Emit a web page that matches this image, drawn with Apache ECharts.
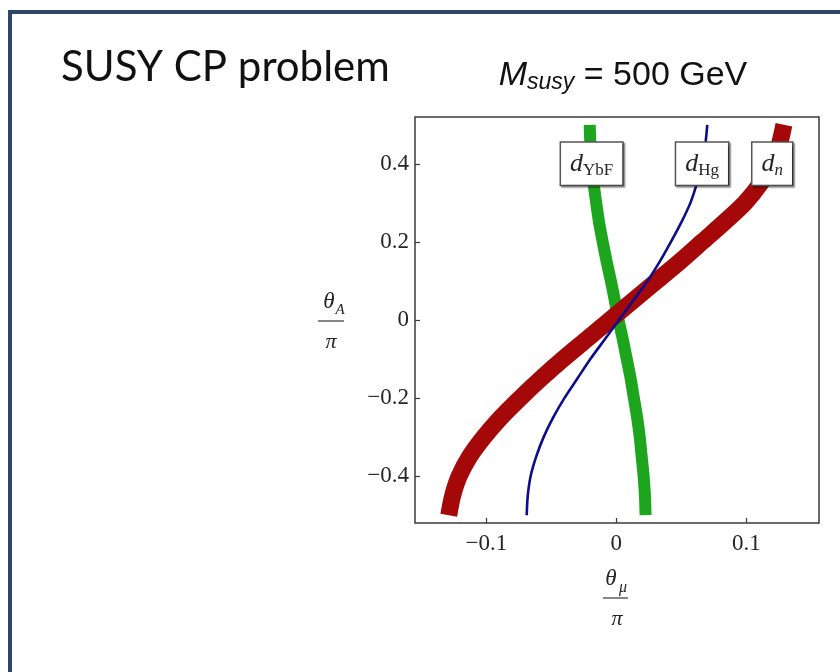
<!DOCTYPE html>
<html>
<head>
<meta charset="utf-8">
<title>SUSY CP problem</title>
<script src="https://cdn.jsdelivr.net/npm/echarts@6/dist/echarts.min.js"></script>
<style>
  html, body { margin: 0; padding: 0; background: #ffffff; }
  #chart { width: 840px; height: 672px; }
</style>
</head>
<body>
<div id="chart"></div>
<script>
// θ_A/π levels at which each EDM contour is sampled
const thetaA = [-0.5, -0.45, -0.4, -0.35, -0.3, -0.25, -0.2, -0.15, -0.1, -0.05, 0,
                0.05, 0.1, 0.15, 0.2, 0.25, 0.3, 0.35, 0.4, 0.45, 0.5];

// θ_μ/π on each contour at the θ_A/π levels above
const dYbF = [0.0225, 0.022, 0.021, 0.0195, 0.018, 0.016, 0.0135, 0.011, 0.008, 0.005, 0.0017,
              -0.0012, -0.0042, -0.0075, -0.0105, -0.0133, -0.0155, -0.0175, -0.019, -0.020, -0.0205];
const dHg  = [-0.069, -0.0682, -0.066, -0.0617, -0.056, -0.0487, -0.040, -0.030, -0.020, -0.009, 0.002,
              0.013, 0.024, 0.0335, 0.042, 0.050, 0.057, 0.062, 0.066, 0.0685, 0.070];
const dn   = [-0.129, -0.126, -0.121, -0.113, -0.102, -0.089, -0.074, -0.058, -0.041, -0.023, -0.005,
              0.013, 0.031, 0.049, 0.066, 0.083, 0.099, 0.111, 0.120, 0.1255, 0.129];

// axis ticks
const xTicks = [-0.1, 0, 0.1];
const yTicks = [-0.4, -0.2, 0, 0.2, 0.4];

// contour tags sit on each curve at this θ_A/π level
const tagLevel = 0.4;

const SERIF = "'Liberation Serif', 'DejaVu Serif', serif";
const INK = '#262626';

function pairs(xs) { return thetaA.map((y, i) => [xs[i], y]); }
const tagIndex = thetaA.indexOf(tagLevel);

function fmt(v) {
  if (Math.abs(v) < 1e-9) return '0';
  return (v < 0 ? '\u2212' : '') + Math.abs(v).toFixed(1);
}

const tagRich = {
  d:  { fontFamily: SERIF, fontStyle: 'italic', fontSize: 26, color: INK, lineHeight: 30, verticalAlign: 'middle' },
  s:  { fontFamily: SERIF, fontSize: 17, color: INK, lineHeight: 18, verticalAlign: 'bottom' },
  si: { fontFamily: SERIF, fontStyle: 'italic', fontSize: 17, color: INK, lineHeight: 18, verticalAlign: 'bottom' }
};

function tagSeries(name, xs, text) {
  return {
    name: name + ' tag',
    type: 'scatter',
    z: 10,
    symbol: 'rect',
    symbolSize: 1,
    itemStyle: { color: 'rgba(0,0,0,0)', opacity: 1 },
    silent: true,
    data: [[xs[tagIndex], thetaA[tagIndex]]],
    label: {
      show: true,
      opacity: 1,
      position: 'inside',
      formatter: text,
      backgroundColor: '#ffffff',
      borderColor: '#555555',
      borderWidth: 1.5,
      padding: [6, 9, 6, 9],
      shadowColor: 'rgba(0,0,0,0.45)',
      shadowOffsetX: 1.5,
      shadowOffsetY: 1.5,
      shadowBlur: 1.5,
      rich: tagRich
    }
  };
}

function band(name, xs, color, width, z) {
  return {
    name: name,
    type: 'line',
    z: z,
    data: pairs(xs),
    smooth: 0.3,
    showSymbol: false,
    symbol: 'none',
    lineStyle: { color: color, width: width, cap: 'butt' },
    clip: true
  };
}

const chart = echarts.init(document.getElementById('chart'), null, { renderer: 'canvas' });

const tickLabel = { fontFamily: SERIF, fontSize: 23, color: INK };

const option = {
  animation: false,
  backgroundColor: '#ffffff',
  grid: {
    left: 415, top: 117, width: 404, height: 406,
    show: true, borderColor: '#3a3a3a', borderWidth: 1.5, backgroundColor: 'rgba(0,0,0,0)'
  },
  xAxis: {
    type: 'value', min: -0.155, max: 0.156,
    axisLine: { show: false, onZero: false },
    splitLine: { show: false },
    axisTick: { show: true, inside: true, length: 5, customValues: xTicks,
                lineStyle: { color: '#3a3a3a', width: 1.2 } },
    axisLabel: Object.assign({ customValues: xTicks, formatter: fmt, margin: 9 }, tickLabel)
  },
  yAxis: {
    type: 'value', min: -0.52, max: 0.52,
    axisLine: { show: false, onZero: false },
    splitLine: { show: false },
    axisTick: { show: true, inside: true, length: 5, customValues: yTicks,
                lineStyle: { color: '#3a3a3a', width: 1.2 } },
    axisLabel: Object.assign({ customValues: yTicks, formatter: fmt, margin: 6 }, tickLabel)
  },
  series: [
    band('d_YbF', dYbF, '#1ea51e', 12, 2),
    band('d_n', dn, '#a50808', 17, 3),
    band('d_Hg', dHg, '#0c0c8c', 2.6, 4),
    tagSeries('d_YbF', dYbF, '{d|d}{s|YbF}'),
    tagSeries('d_Hg', dHg, '{d|d}{s|Hg}'),
    tagSeries('d_n', dn, '{d|d}{si|n}')
  ],
  graphic: [
    // slide frame
    { type: 'rect', silent: true, z: 0,
      shape: { x: 10, y: 12, width: 1000, height: 1000 },
      style: { fill: 'none', stroke: '#2b4668', lineWidth: 4 } },
    // slide heading
    { type: 'text', x: 61, y: 67, silent: true,
      style: { text: 'SUSY CP problem', font: "42px Lato, 'Open Sans', sans-serif",
               fill: '#111', textAlign: 'left', textVerticalAlign: 'middle' } },
    // plot label
    { type: 'text', x: 623, y: 76, silent: true,
      style: {
        text: '{m|M}{s|susy}{t| = 500 GeV}',
        textAlign: 'center', textVerticalAlign: 'middle',
        rich: {
          m: { font: "italic 34px 'Liberation Sans', Arial, sans-serif", fill: '#111', lineHeight: 36, verticalAlign: 'middle' },
          s: { font: "italic 23px 'Liberation Sans', Arial, sans-serif", fill: '#111', lineHeight: 24, verticalAlign: 'bottom' },
          t: { font: "34px 'Liberation Sans', Arial, sans-serif", fill: '#111', lineHeight: 36, verticalAlign: 'middle' }
        }
      } },
    // vertical axis name θ_A / π
    { type: 'text', x: 329, y: 302, silent: true,
      style: { text: 'θ', font: "italic 23px " + SERIF, fill: INK, textAlign: 'center', textVerticalAlign: 'middle' } },
    { type: 'text', x: 340, y: 310, silent: true,
      style: { text: 'A', font: "italic 15px " + SERIF, fill: INK, textAlign: 'center', textVerticalAlign: 'middle' } },
    { type: 'line', silent: true,
      shape: { x1: 318, y1: 321, x2: 344, y2: 321 },
      style: { stroke: '#444', lineWidth: 1.3 } },
    { type: 'text', x: 331, y: 342, silent: true,
      style: { text: 'π', font: "italic 22px " + SERIF, fill: INK, textAlign: 'center', textVerticalAlign: 'middle' } },
    // horizontal axis name θ_μ / π
    { type: 'text', x: 611, y: 579, silent: true,
      style: { text: 'θ', font: "italic 23px " + SERIF, fill: INK, textAlign: 'center', textVerticalAlign: 'middle' } },
    { type: 'text', x: 623, y: 588, silent: true,
      style: { text: 'μ', font: "italic 16px " + SERIF, fill: INK, textAlign: 'center', textVerticalAlign: 'middle' } },
    { type: 'line', silent: true,
      shape: { x1: 603, y1: 598, x2: 628, y2: 598 },
      style: { stroke: '#444', lineWidth: 1.3 } },
    { type: 'text', x: 617, y: 619, silent: true,
      style: { text: 'π', font: "italic 22px " + SERIF, fill: INK, textAlign: 'center', textVerticalAlign: 'middle' } }
  ]
};

chart.setOption(option);
</script>
</body>
</html>
